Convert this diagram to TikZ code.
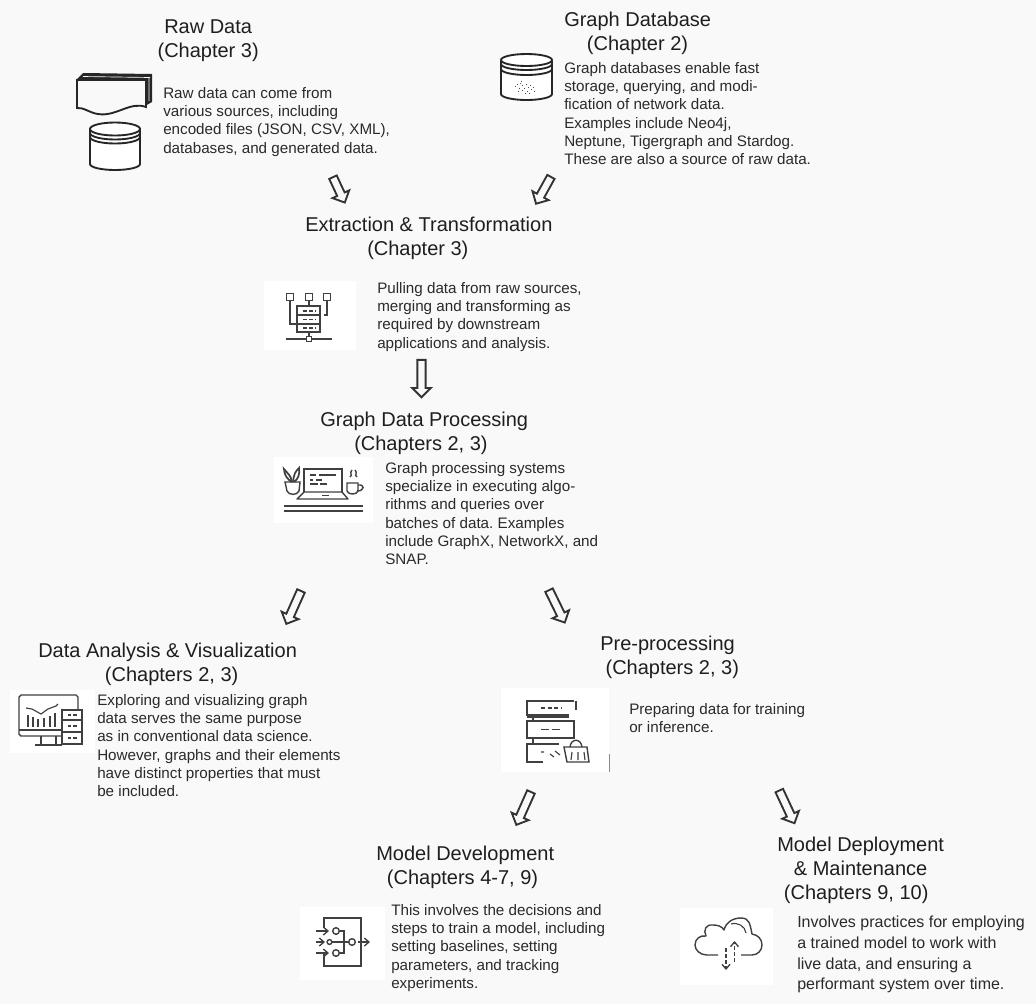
\documentclass[tikz,border=0pt]{standalone}
\usepackage{fontspec}
\setmainfont{Liberation Sans}
\usetikzlibrary{shapes.arrows,arrows.meta}
\definecolor{paper}{HTML}{F9F9F9}
\definecolor{ink}{HTML}{1E1E1E}
\definecolor{bodyink}{HTML}{2A2A2A}
\definecolor{icon}{HTML}{404040}
\tikzset{
  titletext/.style={anchor=north west,align=left,inner sep=0pt,text=ink,font=\fontsize{15}{18}\selectfont},
  bodytext/.style={anchor=north west,align=left,inner sep=0pt,text=bodyink,font=\fontsize{11.4}{13.75}\selectfont\frenchspacing},
  bigbodytext/.style={anchor=north west,align=left,inner sep=0pt,text=bodyink,font=\fontsize{12}{15.5}\selectfont\frenchspacing},
  blockarrow/.style={draw=black!80,line width=1.4pt,fill=paper,shape=single arrow,inner xsep=0pt,inner ysep=2.4pt,
    single arrow head extend=3.8pt,single arrow head indent=0pt},
  whitebox/.style={fill=white,draw=none},
  ic/.style={draw=icon,line width=1.05pt,line join=miter},
  icthin/.style={draw=icon,line width=0.85pt},
  cyl/.style={draw=black!85,line width=1.4pt},
  icarrow/.style={draw=icon,line width=1pt,-{Straight Barb[length=3.5pt,width=6pt]}}
}
\begin{document}
\begin{tikzpicture}[x=0.75pt,y=-0.75pt]
\useasboundingbox (0,0) rectangle (1036,1004);
\fill[paper] (0,0) rectangle (1036,1004);

% icon backgrounds
\fill[whitebox] (264,281) rectangle (356,350);
\fill[whitebox] (274,457) rectangle (373,523);
\fill[whitebox] (10,690) rectangle (95,753);
\fill[whitebox] (501,688) rectangle (609,772);
\fill[whitebox] (300,907) rectangle (385,980);
\fill[whitebox] (680,908) rectangle (773,985);

% titles
\node[titletext] (rawT) at (164,19) {Raw Data\\[0pt]\hspace*{-5pt}(Chapter 3)};
\node[titletext] (dbT) at (564,12) {Graph Database\\\hspace*{17pt}(Chapter 2)};
\node[titletext] (etT) at (305,217) {Extraction \& Transformation\\\hspace*{46.5pt}(Chapter 3)};
\node[titletext] (gpT) at (320,412) {Graph Data Processing\\\hspace*{25.5pt}(Chapters 2, 3)};
\node[titletext] (daT) at (38,643) {Data Analysis \& Visualization\\\hspace*{50pt}(Chapters 2, 3)};
\node[titletext] (ppT) at (600,636) {Pre-processing\\\hspace*{4pt}(Chapters 2, 3)};
\node[titletext] (mdT) at (376,846) {Model Development\\\hspace*{8pt}(Chapters 4-7, 9)};
\node[titletext] (mmT) at (777,837) {Model Deployment\\\hspace*{12.5pt}\& Maintenance\\\hspace*{5pt}(Chapters 9, 10)};

% body text
\node[bodytext] (rawB) at (163,87) {Raw data can come from\\various sources, including\\encoded files (JSON, CSV, XML),\\databases, and generated data.};
\node[bodytext] (dbB) at (564,62) {Graph databases enable fast\\storage, querying, and modi-\\fication of network data.\\Examples include Neo4j,\\Neptune, Tigergraph and Stardog.\\These are also a source of raw data.};
\node[bodytext] (etB) at (377,282) {Pulling data from raw sources,\\merging and transforming as\\required by downstream\\applications and analysis.};
\node[bodytext] (gpB) at (385,462) {Graph processing systems\\specialize in executing algo-\\rithms and queries over\\batches of data. Examples\\include GraphX, NetworkX, and\\SNAP.};
\node[bodytext] (daB) at (97,694) {Exploring and visualizing graph\\data serves the same purpose\\as in conventional data science.\\However, graphs and their elements\\have distinct properties that must\\be included.};
\node[bodytext] (ppB) at (629,703) {Preparing data for training\\or inference.};
\node[bodytext] (mdB) at (391,904) {This involves the decisions and\\steps to train a model, including\\setting baselines, setting\\parameters, and tracking\\experiments.};
\node[bigbodytext] (mmB) at (797,916) {Involves practices for employing\\a trained model to work with\\live data, and ensuring a\\performant system over time.};

% block arrows
\node[blockarrow,rotate=-65,minimum height=21pt] (a1) at (338,188) {};
\node[blockarrow,rotate=-119,minimum height=23pt] (a2) at (544.5,188.5) {};
\node[blockarrow,rotate=-90,minimum height=28pt] (a3) at (421.5,376.5) {};
\node[blockarrow,rotate=-114,minimum height=27pt] (a4) at (294.5,605.5) {};
\node[blockarrow,rotate=-64,minimum height=27pt] (a5) at (556,604.5) {};
\node[blockarrow,rotate=-114,minimum height=27pt] (a6) at (524.5,806.5) {};
\node[blockarrow,rotate=-65,minimum height=27pt] (a7) at (786,805) {};

% raw file stack
\fill[black!85] (83,73) -- (152,74) -- (152,102) -- (145,106) -- (145,80) -- (77,79) -- cycle;
\draw[cyl,fill=paper] (77,80) -- (146,80) -- (146,107) .. controls (130,101) and (116,117) .. (98,114) .. controls (90,113) and (83,107) .. (77,108) -- cycle;
\draw[paper,line width=0.5pt] (83,76.5) -- (150,77.5) (149,78) -- (149,101);

% raw data cylinder
\draw[cyl,fill=white] (90,128) -- (90,164) arc[start angle=180,end angle=0,x radius=25,y radius=6] -- (140,128);
\draw[cyl,fill=white] (115,129) ellipse[x radius=25,y radius=6.5];
\draw[cyl] (90,133) arc[start angle=180,end angle=0,x radius=25,y radius=6.5];
\draw[cyl] (90,137) arc[start angle=180,end angle=0,x radius=25,y radius=6.5];

% graph database cylinder
\draw[cyl,fill=white] (501,61) -- (501,94) arc[start angle=180,end angle=0,x radius=25.5,y radius=6] -- (552,61);
\draw[cyl,fill=white] (526.5,60) ellipse[x radius=25.5,y radius=6];
\draw[cyl] (501,64) arc[start angle=180,end angle=0,x radius=25.5,y radius=6];
\draw[cyl] (501,69) arc[start angle=180,end angle=0,x radius=25.5,y radius=6];
\foreach \dx/\dy in {515/86,517/84,519/88,520/83,522/85,522/90,524/88,526/84,527/91,528/87,530/85,531/89,533/87,518/91,525/93,529/93,534/91,521/81}
  \fill[black!70] (\dx,\dy) rectangle ++(1.2,1.2);

% extraction icon
\foreach \sx in {290,309,327} \draw[ic] (\sx-3.5,293.5) rectangle (\sx+3.5,300.5);
\draw[ic] (297,306) rectangle (320,332);
\draw[ic] (297,315) -- (320,315) (297,324) -- (320,324);
\draw[ic] (290,301) -- (290,324) -- (297,324);
\draw[ic] (309,301) -- (309,306);
\draw[ic] (327,301) -- (327,315) -- (324,315);
\draw[icthin,dash pattern=on 3pt off 1.5pt] (303,311) -- (316,311) (303,319.5) -- (316,319.5) (303,328) -- (316,328);
\draw[ic] (286,339) -- (332,339);
\draw[ic] (309,332) -- (309,336);
\draw[ic,fill=white] (306.5,336.5) rectangle (311.5,341.5);

% graph processing icon
\draw[ic] (304,492) -- (304,469) -- (342,469) -- (342,492);
\draw[ic,line join=round] (304,492) -- (297,499) -- (348,499) -- (342,492) -- cycle;
\draw[ic] (322,495.5) -- (329,495.5);
\draw[icthin] (310,475) -- (316,475) (319,475) -- (336,475) (310,480) -- (313,480) (316,480) -- (322,480) (310,484) -- (318,484) (320,484) -- (327,484);
\draw[ic,line width=1.7pt] (284,506) -- (363,506);
\draw[ic,line width=1.3pt] (284,511) -- (363,511);
\draw[ic] (285,482) -- (300,482) -- (299,491) .. controls (297,495.5) and (289,495.5) .. (287,491) -- cycle;
\draw[ic,line width=1.3pt] (292,482) .. controls (291,475) and (287,473) .. (284,469) .. controls (284,475) and (288,480) .. (292,482);
\draw[ic,line width=1.3pt] (293,482) .. controls (294,474) and (295,472) .. (299,468) .. controls (300,475) and (298,479) .. (294,482);
\draw[ic] (347,483) -- (358,483) -- (358,491) .. controls (357,495) and (348,495) .. (347,491) -- cycle;
\draw[ic] (358,485) .. controls (365,484) and (365,491) .. (357,491);
\draw[ic] (352,470) .. controls (349,473) and (353,475) .. (350,477) (355,470) .. controls (358,473) and (354,475) .. (357,477);

% analysis icon
\draw[ic] (62,736) -- (21,736) -- (19,734) -- (19,697) -- (21,695) -- (76,695) -- (78,697) -- (78,710);
\draw[ic] (19,730) -- (62,730);
\draw[ic] (41,736) -- (41,745) (56,736) -- (56,745) (35,745) -- (62,745);
\draw[ic] (62,710) rectangle (82,744);
\draw[ic] (62,720) -- (82,720) (62,732) -- (82,732);
\draw[icthin,dash pattern=on 2.5pt off 1.5pt] (68,715) -- (77,715) (68,726) -- (77,726) (68,738) -- (77,738);
\draw[icthin] (26,708) -- (32,709) -- (41,714) -- (48,709) -- (56,706) -- (58,704);
\foreach \bx/\by in {28/715,33/717,38/719,44/718,50/716,55/713} \draw[icthin] (\bx,\by) -- (\bx,727);

% pre-processing icon
\draw[ic] (574,701) -- (527,701) -- (527,715) -- (569,715);
\draw[ic] (576,701) -- (576,710);
\draw[ic] (527,717) -- (569,717);
\draw[ic] (533,717) -- (533,721);
\draw[ic] (527,721) -- (574,721) -- (574,738) -- (527,738) -- cycle;
\draw[ic] (533,738) -- (533,744);
\draw[ic] (559,744) -- (527,744) -- (527,762) -- (543,762);
\draw[icthin,dash pattern=on 3pt off 2pt] (541,708) -- (562,708);
\draw[icthin,dash pattern=on 6pt off 2pt] (541,729.5) -- (562,729.5);
\draw[icthin] (541,752) -- (544,752) (555,751) -- (560,755) (550,754) -- (554,757);
\draw[ic] (564,747) -- (587,747) -- (589,762) -- (567,762) -- cycle;
\draw[ic] (570,747) .. controls (571,738) and (581,738) .. (582,747);
\draw[icthin] (572,752) -- (571,760) (578,752) -- (578,760) (584,752) -- (585,760);
\draw[black!45,line width=0.6pt] (609,754) -- (609,772);

% model development icon
\draw[ic] (324,928) -- (324,918) -- (361,918) -- (361,966) -- (324,966) -- (324,953);
\draw[ic] (336,931) circle[radius=3.3];
\draw[ic] (329.5,942) circle[radius=2.4];
\draw[ic] (336,953) circle[radius=3.3];
\draw[ic] (352,942) circle[radius=3.3];
\draw[ic] (339.5,931) -- (344,931) -- (344,953) -- (339.5,953);
\draw[ic] (332,942) -- (348.5,942);
\draw[icarrow] (316,931) -- (329,931);
\draw[icarrow] (316,942) -- (325,942);
\draw[icarrow] (316,953) -- (329,953);
\draw[icarrow] (358,942) -- (370,942);

% deployment icon
\draw[ic,line join=round] (718,955) -- (707,955) .. controls (700,955) and (695,950) .. (695,945) .. controls (695,939) and (700,935) .. (706,936) .. controls (703,930) and (706,924) .. (713,925) .. controls (717,925) and (722,926) .. (724,930) .. controls (726,922) and (733,918) .. (741,918) .. controls (750,918) and (750,925) .. (752,934) .. controls (758,935) and (762,939) .. (762,945) .. controls (762,950) and (758,955) .. (752,955) -- (741,955);
\draw[icthin] (731,924) .. controls (738,922) and (745,926) .. (746,933);
\draw[icarrow,dash pattern=on 3pt off 1.5pt] (734.5,962) -- (734.5,941);
\draw[icarrow,dash pattern=on 3pt off 1.5pt] (726,948) -- (726,970);
\end{tikzpicture}
\end{document}
